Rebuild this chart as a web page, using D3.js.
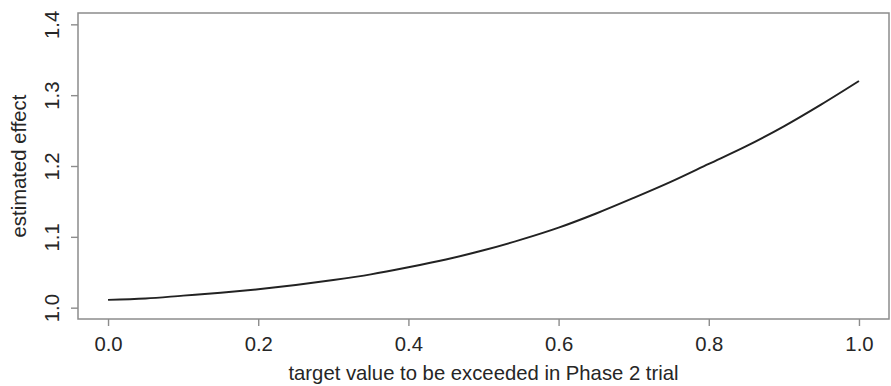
<!DOCTYPE html>
<html>
<head>
<meta charset="utf-8">
<script src="https://cdn.jsdelivr.net/npm/d3@7"></script>
<style>
  html, body { margin: 0; padding: 0; background: #fff; }
  svg { display: block; }
  text { font-family: "Liberation Sans", Arial, Helvetica, sans-serif; fill: #262626; }
</style>
</head>
<body>
<svg id="chart" width="891" height="386"></svg>
<script>
// Target value to be exceeded in the Phase 2 trial
const targetValues = [0, 0.05, 0.1, 0.15, 0.2, 0.25, 0.3, 0.35, 0.4, 0.45, 0.5,
                      0.55, 0.6, 0.65, 0.7, 0.75, 0.8, 0.85, 0.9, 0.95, 1.0];
// Estimated effect at each target value
const estimatedEffect = [1.011, 1.013, 1.017, 1.021, 1.026, 1.032, 1.039, 1.047, 1.057, 1.068, 1.081,
                         1.096, 1.113, 1.133, 1.155, 1.178, 1.203, 1.228, 1.256, 1.287, 1.320];
const xTicks = [0, 0.2, 0.4, 0.6, 0.8, 1.0];
const yTicks = [1.0, 1.1, 1.2, 1.3, 1.4];
const xTitle = "target value to be exceeded in Phase 2 trial";
const yTitle = "estimated effect";

const svg = d3.select("#chart");
const box = { left: 78, right: 889, top: 13, bottom: 319 };
const fontSize = 20.3;
const fontFamily = '"Liberation Sans", Arial, sans-serif';
const ink = "#262626";

// Axis limits padded by 4% on each side
const x = d3.scaleLinear().domain([-0.04, 1.04]).range([box.left, box.right]);
const y = d3.scaleLinear().domain([0.984, 1.416]).range([box.bottom, box.top]);

const fmt = d3.format(".1f");
const frame = "#8c8c8c";

// x axis
const gx = svg.append("g")
  .attr("transform", `translate(0,${box.bottom})`)
  .call(d3.axisBottom(x).tickValues(xTicks).tickFormat(fmt).tickSize(7).tickPadding(11));
gx.select(".domain").remove();
gx.selectAll(".tick line").attr("stroke", frame).attr("stroke-width", 1.4);
gx.selectAll(".tick text").attr("font-size", fontSize).attr("fill", ink)
  .attr("font-family", fontFamily);

// y axis with labels drawn parallel to the axis
const gy = svg.append("g")
  .attr("transform", `translate(${box.left},0)`)
  .call(d3.axisLeft(y).tickValues(yTicks).tickFormat(fmt).tickSize(7));
gy.select(".domain").remove();
gy.selectAll(".tick line").attr("stroke", frame).attr("stroke-width", 1.4);
gy.selectAll(".tick text")
  .attr("font-size", fontSize).attr("fill", ink)
  .attr("font-family", fontFamily)
  .attr("x", null).attr("dy", null)
  .attr("text-anchor", "middle")
  .attr("transform", "translate(-19,0) rotate(-90)");

// plot frame
svg.append("rect")
  .attr("x", box.left).attr("y", box.top)
  .attr("width", box.right - box.left).attr("height", box.bottom - box.top)
  .attr("fill", "none").attr("stroke", frame).attr("stroke-width", 1.5);

// curve
const data = targetValues.map((t, i) => ({ t, e: estimatedEffect[i] }));
svg.append("path")
  .datum(data)
  .attr("fill", "none")
  .attr("stroke", "#222")
  .attr("stroke-width", 2)
  .attr("d", d3.line().x(d => x(d.t)).y(d => y(d.e)).curve(d3.curveMonotoneX));

// axis titles
svg.append("text")
  .attr("x", (box.left + box.right) / 2).attr("y", 380)
  .attr("text-anchor", "middle").attr("font-size", fontSize)
  .text(xTitle);

svg.append("text")
  .attr("transform", `translate(26,${(box.top + box.bottom) / 2}) rotate(-90)`)
  .attr("text-anchor", "middle").attr("font-size", fontSize)
  .text(yTitle);
</script>
</body>
</html>
